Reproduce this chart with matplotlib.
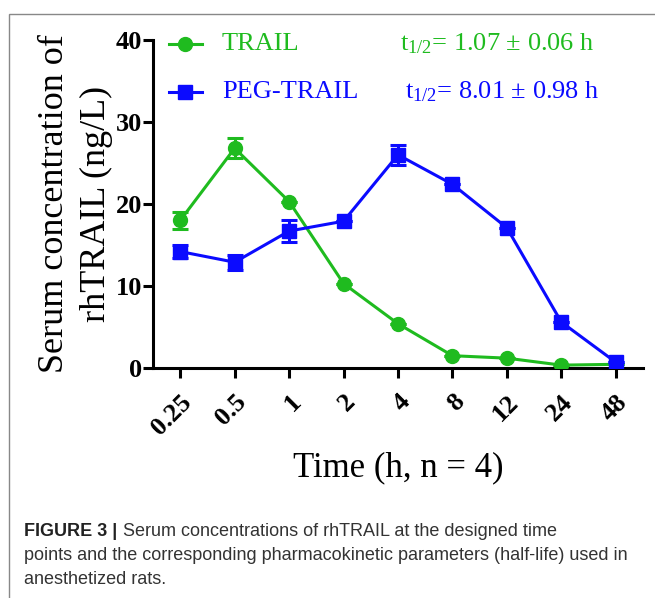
import numpy as np
import matplotlib.pyplot as plt
import matplotlib.transforms as mtransforms
from matplotlib.patches import Rectangle

# data
times = ['0.25', '0.5', '1', '2', '4', '8', '12', '24', '48']
trail = [18.0, 26.8, 20.3, 10.3, 5.4, 1.5, 1.2, 0.35, 0.45]
trail_err = [1.0, 1.2, 0.0, 0.0, 0.0, 0.0, 0.0, 0.0, 0.0]
peg = [14.2, 12.9, 16.7, 17.9, 26.0, 22.4, 17.1, 5.6, 0.7]
peg_err = [0.8, 0.9, 1.3, 0.0, 1.2, 0.0, 0.0, 0.0, 0.0]
yticks = [0, 10, 20, 30, 40]

green = '#1fbb1f'
blue = '#0b0bff'
serif = 'Liberation Serif'
plt.rcParams['mathtext.fontset'] = 'custom'
plt.rcParams['mathtext.rm'] = serif

fig = plt.figure(figsize=(6.55, 5.98), dpi=100)
# outer frame of the figure panel
fig.patches.append(Rectangle((9 / 655, -0.1), 1.2, 1 - 14 / 598 + 0.1, transform=fig.transFigure,
                             fill=False, edgecolor='#888888', linewidth=1.0))

ax = fig.add_axes([153 / 655, 1 - 368 / 598, (643 - 153) / 655, (368 - 40) / 598])
x = np.arange(len(times))

ax.errorbar(x, trail, yerr=trail_err, color=green, marker='o', markersize=10, linewidth=2.2,
            capsize=6, capthick=2.2, elinewidth=2.2, zorder=3)
ax.errorbar(x, peg, yerr=peg_err, color=blue, marker='s', markersize=10, linewidth=2.2,
            capsize=6, capthick=2.2, elinewidth=2.2, zorder=4)

ax.set_xlim(-0.5, len(times) - 0.5)
ax.set_ylim(0, 40)
ax.set_xticks(x)
ax.set_xticklabels(times, rotation=45, ha='right', rotation_mode='anchor')
ax.set_yticks(yticks)
shift = mtransforms.ScaledTranslation(9 / 72, 0, fig.dpi_scale_trans)
for lab in ax.get_xticklabels():
    lab.set_fontfamily(serif)
    lab.set_fontweight('bold')
    lab.set_fontsize(19)
    lab.set_transform(lab.get_transform() + shift)
for lab in ax.get_yticklabels():
    lab.set_fontfamily(serif)
    lab.set_fontweight('bold')
    lab.set_fontsize(19)
ax.tick_params(axis='x', length=7, width=2.2, pad=9)
ax.tick_params(axis='y', length=7, width=2.2, pad=1)
ax.spines['top'].set_visible(False)
ax.spines['right'].set_visible(False)
ax.spines['left'].set_linewidth(2.2)
ax.spines['bottom'].set_linewidth(2.2)

ax.set_xlabel('Time (h, n = 4)', fontfamily=serif, fontsize=25, labelpad=9)
ax.set_ylabel('Serum concentration of\nrhTRAIL (ng/L)', fontfamily=serif, fontsize=26,
              linespacing=1.35, labelpad=2)

# legend drawn by hand to match the layout
fig.lines.append(plt.Line2D([169 / 655, 185 / 655, 202 / 655], [1 - 44 / 598] * 3, transform=fig.transFigure,
                            color=green, linewidth=2.2, marker='o', markersize=10, markevery=[1]))
fig.lines.append(plt.Line2D([169 / 655, 185 / 655, 202 / 655], [1 - 92 / 598] * 3, transform=fig.transFigure,
                            color=blue, linewidth=2.2, marker='s', markersize=10, markevery=[1]))
fig.text(222 / 655, 1 - 44 / 598, 'TRAIL', color=green, fontfamily=serif, fontsize=19, va='center')
fig.text(222 / 655, 1 - 92 / 598, 'PEG-TRAIL', color=blue, fontfamily=serif, fontsize=19, va='center')
fig.text(400 / 655, 1 - 44 / 598, r'$\mathregular{t_{1/2}}$= 1.07 ± 0.06 h', color=green,
         fontfamily=serif, fontsize=19, va='center')
fig.text(405 / 655, 1 - 92 / 598, r'$\mathregular{t_{1/2}}$= 8.01 ± 0.98 h', color=blue,
         fontfamily=serif, fontsize=19, va='center')

# caption
cap_font = 'Liberation Sans'
fig.text(24 / 655, 1 - 531 / 598, 'FIGURE 3 |', fontfamily=cap_font, fontweight='bold',
         fontsize=13, color='#222222', va='center')
fig.text(123 / 655, 1 - 531 / 598, 'Serum concentrations of rhTRAIL at the designed time',
         fontfamily=cap_font, fontsize=13, color='#333333', va='center')
fig.text(24 / 655, 1 - 555 / 598,
         'points and the corresponding pharmacokinetic parameters (half-life) used in',
         fontfamily=cap_font, fontsize=13, color='#333333', va='center')
fig.text(24 / 655, 1 - 579 / 598, 'anesthetized rats.', fontfamily=cap_font, fontsize=13,
         color='#333333', va='center')

plt.savefig('out.png', dpi=100)
